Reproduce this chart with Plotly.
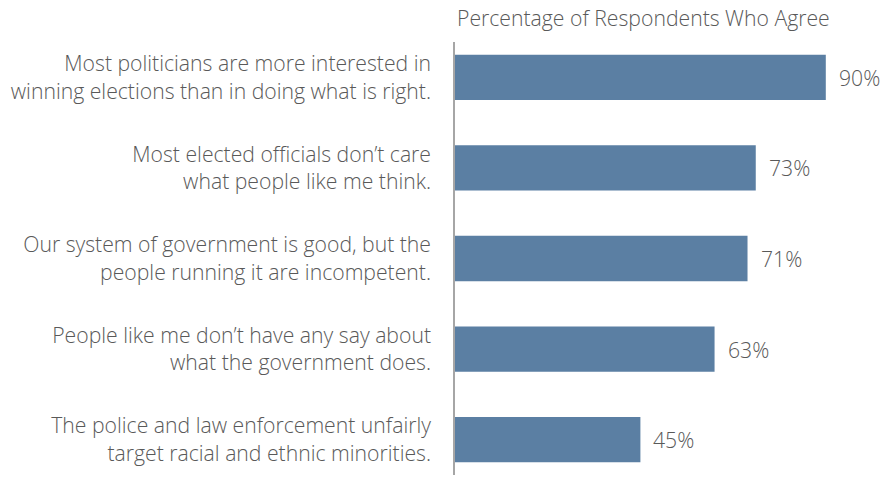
import plotly.graph_objects as go

categories = [
    "Most politicians are more interested in<br>winning elections than in doing what is right.",
    "Most elected officials don\u2019t care<br>what people like me think.",
    "Our system of government is good, but the<br>people running it are incompetent.",
    "People like me don\u2019t have any say about<br>what the government does.",
    "The police and law enforcement unfairly<br>target racial and ethnic minorities.",
]
values = [90, 73, 71, 63, 45]
value_labels = ["90%", "73%", "71%", "63%", "45%"]
title_text = "Percentage of Respondents Who Agree"

BAR = "#5b7fa3"
TXT = "#595959"
FONT = "'Open Sans', sans-serif"
FS = 21.2

fig = go.Figure(go.Bar(
    x=values, y=categories, orientation="h",
    marker=dict(color=BAR, line=dict(width=0)),
    width=0.5, hoverinfo="skip",
))

for c, v, t in zip(categories, values, value_labels):
    fig.add_annotation(x=v, y=c, text=t, xanchor="left", yanchor="middle",
                       xshift=11, showarrow=False,
                       font=dict(family=FONT, size=FS, color=TXT, weight=300))

fig.add_annotation(x=0, xref="paper", y=1, yref="paper", yanchor="bottom",
                   xanchor="left", yshift=8, text=title_text, showarrow=False,
                   font=dict(family=FONT, size=FS, color=TXT, weight=300))

fig.update_layout(
    width=887, height=477,
    margin=dict(l=455, r=20, t=42, b=2),
    paper_bgcolor="white", plot_bgcolor="white",
    showlegend=False,
    font=dict(family=FONT, size=FS, color=TXT),
    xaxis=dict(range=[0, 100], visible=False, fixedrange=True),
    yaxis=dict(range=[4.39, -0.39], showline=True, linecolor="#a6a6a6", linewidth=1.5,
               showgrid=False, zeroline=False, ticks="", ticklabelstandoff=18,
               automargin=False,
               tickfont=dict(family=FONT, size=FS, color=TXT, weight=300)),
)

fig.write_html("out.html", config={"displayModeBar": False},
               post_script="document.body.style.margin='0';document.body.style.overflow='hidden';")
